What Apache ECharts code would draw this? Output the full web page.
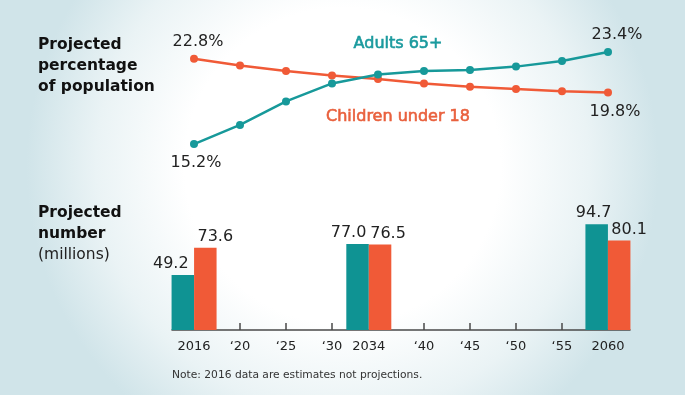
<!DOCTYPE html>
<html><head><meta charset="utf-8">
<script src="https://cdn.jsdelivr.net/npm/echarts@6/dist/echarts.min.js"></script>
<style>html,body{margin:0;padding:0;background:#fff}#c{width:685px;height:395px}</style>
</head><body><div id="c"></div>
<script>
// ---- data ----
const lineYears = ['2016','2020','2025','2030','2035','2040','2045','2050','2055','2060'];
const adults65Pct = [15.2, 16.9, 19.0, 20.6, 21.4, 21.7, 21.8, 22.1, 22.6, 23.4];
const childrenPct = [22.8, 22.2, 21.7, 21.3, 21.0, 20.6, 20.3, 20.1, 19.9, 19.8];

// 2016 is drawn in the first 5-year slot, as in the original graphic
const barYears = [2015, 2034, 2060];
const barYearLabels = ['2016', '2034', '2060'];
const adults65Num = [49.2, 77.0, 94.7];
const childrenNum = [73.6, 76.5, 80.1];

const tickValues = [2020, 2025, 2030, 2040, 2045, 2050, 2055];
const tickLabelValues = [2015, 2020, 2025, 2030, 2034, 2040, 2045, 2050, 2055, 2060];
const tickLabels = ['2016', '\u201820', '\u201825', '\u201830', '2034', '\u201840', '\u201845', '\u201850', '\u201855', '2060'];

// ---- styles ----
const TEAL = '#0f9393';
const ORANGE = '#f05a37';
const FONT = '"DejaVu Sans", "Open Sans", sans-serif';
const tealLabelDx = [-12, -9, -3];
const orangeLabelDx = [10, 8, 10];

const last = lineYears.length - 1;
function endLabels(arr, firstPos, lastPos, firstDx, lastDx) {
  return arr.map((v, i) => {
    const isEnd = i === 0 || i === last;
    const pos = i === 0 ? firstPos : lastPos;
    const dx = i === 0 ? firstDx : lastDx;
    return {
      value: v,
      label: {
        show: isEnd,
        position: pos,
        distance: pos === 'top' ? 5 : 7,
        offset: [dx, 0],
        formatter: p => p.value.toFixed(1) + '%'
      }
    };
  });
}

const chart = echarts.init(document.getElementById('c'), null, {renderer: 'canvas'});
chart.setOption({
  animation: false,
  backgroundColor: {
    type: 'radial', x: 0.5, y: 0.42, r: 0.8,
    colorStops: [
      {offset: 0, color: '#ffffff'},
      {offset: 0.5, color: '#ffffff'},
      {offset: 0.78, color: '#eaf3f5'},
      {offset: 1, color: '#d0e4e9'}
    ]
  },
  textStyle: {fontFamily: FONT},
  grid: [
    {left: 194, right: 77, top: 45.3, height: 112.2},
    {left: 172, right: 55, top: 218.2, height: 111.8}
  ],
  xAxis: [
    {gridIndex: 0, type: 'category', data: lineYears, boundaryGap: false, show: false},
    {
      gridIndex: 1, type: 'value', min: 2012.6, max: 2062.4,
      splitLine: {show: false},
      axisLine: {show: true, lineStyle: {color: '#4a4a4a', width: 1.5}},
      axisTick: {show: true, inside: true, length: 7, customValues: tickValues, lineStyle: {color: '#4a4a4a', width: 1.5}},
      axisLabel: {
        customValues: tickLabelValues,
        margin: 10, fontSize: 13, color: '#222', fontFamily: FONT,
        formatter: v => tickLabels[tickLabelValues.indexOf(Math.round(v))] || ''
      }
    }
  ],
  yAxis: [
    {gridIndex: 0, type: 'value', min: 14, max: 24, show: false},
    {gridIndex: 1, type: 'value', min: 0, max: 100, show: false}
  ],
  series: [
    {
      name: 'Children under 18', type: 'line', xAxisIndex: 0, yAxisIndex: 0,
      data: endLabels(childrenPct, 'top', 'bottom', 4, 7),
      symbol: 'circle', symbolSize: 8,
      lineStyle: {color: ORANGE, width: 2.5},
      itemStyle: {color: ORANGE},
      label: {fontSize: 16, color: '#222', fontFamily: FONT}
    },
    {
      name: 'Adults 65+', type: 'line', xAxisIndex: 0, yAxisIndex: 0,
      data: endLabels(adults65Pct, 'bottom', 'top', 2, 9),
      symbol: 'circle', symbolSize: 8,
      lineStyle: {color: '#17999a', width: 2.5},
      itemStyle: {color: '#17999a'},
      label: {fontSize: 16, color: '#222', fontFamily: FONT}
    },
    {
      name: 'Adults 65+ (millions)', type: 'bar', xAxisIndex: 1, yAxisIndex: 1,
      barWidth: 22.5, barGap: '0%',
      data: barYears.map((y, i) => ({value: [y, adults65Num[i]], name: barYearLabels[i], label: {offset: [tealLabelDx[i], 0]}})),
      itemStyle: {color: TEAL},
      label: {show: true, position: 'top', distance: 3, fontSize: 16, color: '#222', fontFamily: FONT,
        formatter: p => p.value[1].toFixed(1)}
    },
    {
      name: 'Children under 18 (millions)', type: 'bar', xAxisIndex: 1, yAxisIndex: 1,
      barWidth: 22.5, barGap: '0%',
      data: barYears.map((y, i) => ({value: [y, childrenNum[i]], name: barYearLabels[i], label: {offset: [orangeLabelDx[i], 0]}})),
      itemStyle: {color: ORANGE},
      label: {show: true, position: 'top', distance: 3, fontSize: 16, color: '#222', fontFamily: FONT,
        formatter: p => p.value[1].toFixed(1)}
    }
  ],
  graphic: [
    {type: 'text', left: 38, top: 35, style: {text: 'Projected\npercentage\nof population', font: 'bold 15.5px ' + FONT, fill: '#111', lineHeight: 20.8}},
    {type: 'text', left: 38, top: 203, style: {text: 'Projected\nnumber', font: 'bold 15.5px ' + FONT, fill: '#111', lineHeight: 20.5}},
    {type: 'text', left: 38, top: 247, style: {text: '(millions)', font: '15.5px ' + FONT, fill: '#222'}},
    {type: 'text', x: 398, y: 44, style: {text: 'Adults 65+', font: '16px ' + FONT, fill: '#1a9a9e', stroke: '#1a9a9e', lineWidth: 0.6, align: 'center', verticalAlign: 'middle'}},
    {type: 'text', x: 398, y: 117, style: {text: 'Children under 18', font: '16px ' + FONT, fill: '#e9603d', stroke: '#e9603d', lineWidth: 0.6, align: 'center', verticalAlign: 'middle'}},
    {type: 'text', left: 172, top: 370, style: {text: 'Note: 2016 data are estimates not projections.', font: '10.7px ' + FONT, fill: '#333'}}
  ]
});
</script>
</body></html>
